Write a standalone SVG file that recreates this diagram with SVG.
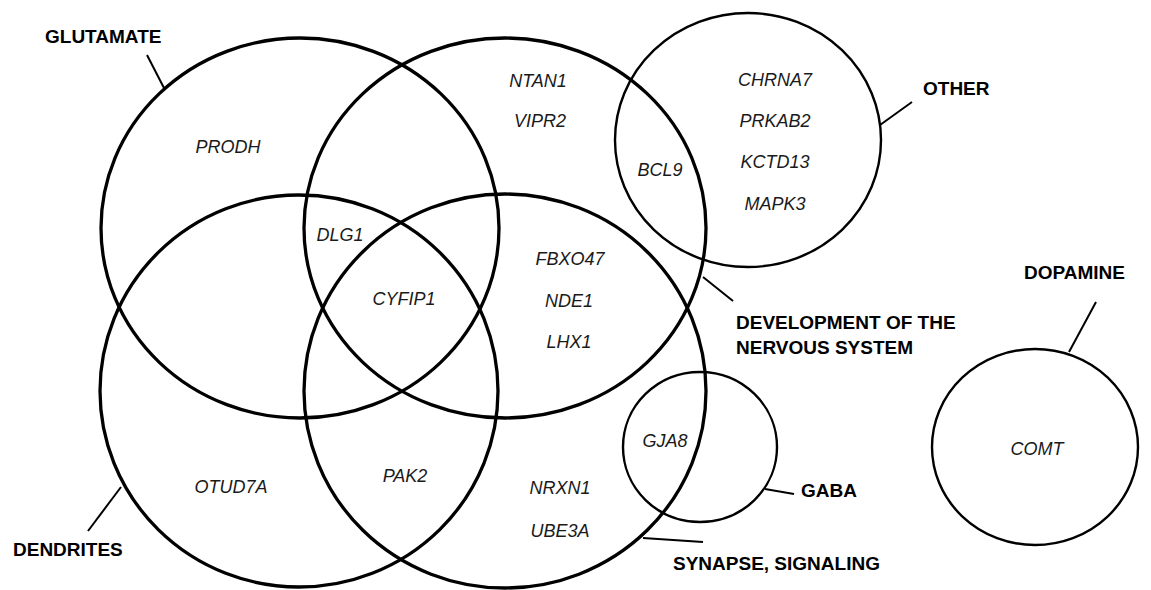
<svg xmlns="http://www.w3.org/2000/svg" width="1151" height="590" viewBox="0 0 1151 590">
<style>
.big{fill:none;stroke:#000;stroke-width:3.3}
.small{fill:none;stroke:#000;stroke-width:2.4}
.lead{stroke:#000;stroke-width:2;fill:none}
.lab{font-family:"Liberation Sans",Arial,sans-serif;font-weight:bold;font-size:19px;fill:#000}
.gene{font-family:"Liberation Sans",Arial,sans-serif;font-style:italic;font-size:18px;fill:#1a1a1a;text-anchor:middle}
</style>
<rect width="1151" height="590" fill="#fff"/>
<g id="glutamate">
<ellipse class="big" cx="300" cy="228" rx="199" ry="190"/>
<text class="lab" x="45" y="43">GLUTAMATE</text>
</g>
<g id="development">
<ellipse class="big" cx="505" cy="228" rx="201" ry="190"/>
<text class="lab" x="736" y="329">DEVELOPMENT OF THE</text>
<text class="lab" x="736" y="354">NERVOUS SYSTEM</text>
</g>
<g id="dendrites">
<ellipse class="big" cx="299" cy="391" rx="199" ry="196"/>
<text class="lab" x="13" y="556">DENDRITES</text>
</g>
<g id="synapse">
<ellipse class="big" cx="505" cy="391" rx="201" ry="197"/>
<text class="lab" x="673" y="570">SYNAPSE, SIGNALING</text>
</g>
<g id="other">
<ellipse class="small" cx="748" cy="140" rx="133" ry="127"/>
<text class="lab" x="923" y="95">OTHER</text>
</g>
<g id="gaba">
<ellipse class="small" cx="700" cy="447" rx="77" ry="75"/>
<text class="lab" x="801" y="497">GABA</text>
</g>
<g id="dopamine">
<ellipse class="small" cx="1035" cy="447" rx="103" ry="98"/>
<text class="lab" x="1024" y="279">DOPAMINE</text>
</g>
<g id="connectors">
<line class="lead" x1="147" y1="55" x2="164" y2="88"/>
<line class="lead" x1="880" y1="125" x2="912" y2="102"/>
<line class="lead" x1="703" y1="277" x2="733" y2="301"/>
<line class="lead" x1="1069" y1="352" x2="1096" y2="302"/>
<line class="lead" x1="765" y1="489" x2="794" y2="494"/>
<line class="lead" x1="643" y1="538" x2="703" y2="542"/>
<line class="lead" x1="121" y1="487" x2="88" y2="531"/>
</g>
<g id="genes">
<text class="gene" x="228" y="153">PRODH</text>
<text class="gene" x="538" y="87">NTAN1</text>
<text class="gene" x="540" y="127">VIPR2</text>
<text class="gene" x="660" y="176">BCL9</text>
<text class="gene" x="340" y="241">DLG1</text>
<text class="gene" x="775" y="86">CHRNA7</text>
<text class="gene" x="775" y="127">PRKAB2</text>
<text class="gene" x="775" y="168">KCTD13</text>
<text class="gene" x="775" y="210">MAPK3</text>
<text class="gene" x="570" y="265">FBXO47</text>
<text class="gene" x="569" y="307">NDE1</text>
<text class="gene" x="569" y="348">LHX1</text>
<text class="gene" x="404" y="305">CYFIP1</text>
<text class="gene" x="665" y="447">GJA8</text>
<text class="gene" x="405" y="482">PAK2</text>
<text class="gene" x="560" y="494">NRXN1</text>
<text class="gene" x="560" y="537">UBE3A</text>
<text class="gene" x="231" y="493">OTUD7A</text>
<text class="gene" x="1037" y="455">COMT</text>
</g>
</svg>
